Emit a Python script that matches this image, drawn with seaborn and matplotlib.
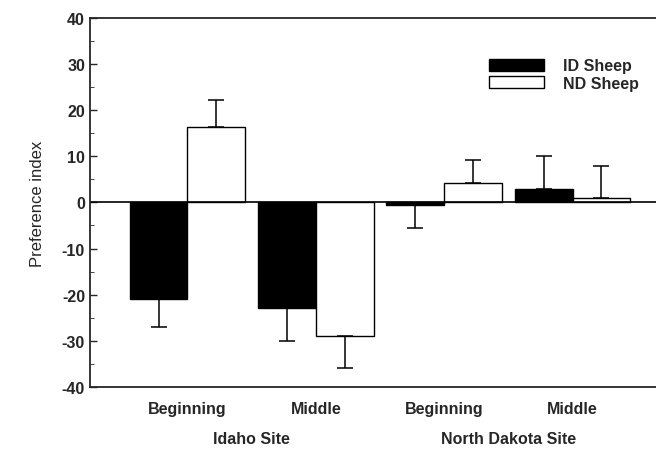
import numpy as np
import pandas as pd
import matplotlib
matplotlib.use("Agg")
import matplotlib.pyplot as plt
import seaborn as sns

periods = ["Beginning", "Middle", "Beginning ", "Middle "]
sites = ["Idaho Site", "North Dakota Site"]
id_sheep = [-21, -23, -0.6, 3]
nd_sheep = [16.3, -29, 4.1, 0.9]
id_err = [6, 7, 5, 7]
nd_err = [6, 7, 5, 7]

df = pd.DataFrame({
    "period": periods * 2,
    "value": id_sheep + nd_sheep,
    "err": id_err + nd_err,
    "sheep": ["ID Sheep"] * 4 + ["ND Sheep"] * 4,
})

sns.set_style("ticks")
plt.rcParams["font.family"] = ["Liberation Sans", "DejaVu Sans"]
plt.rcParams["axes.unicode_minus"] = False

fig = plt.figure(figsize=(6.56, 4.52), dpi=100)
ax = fig.add_axes([0.137, 0.142, 0.863, 0.816])

sns.barplot(data=df, x="period", y="value", hue="sheep", order=periods,
            palette={"ID Sheep": "black", "ND Sheep": "white"},
            edgecolor="black", linewidth=1, width=0.9, errorbar=None,
            saturation=1, ax=ax)

# one-sided error bars, drawn away from zero
for patch, (_, row) in zip(ax.patches, df.iterrows()):
    xc = patch.get_x() + patch.get_width() / 2
    v = row["value"]
    yerr = [[row["err"]], [0]] if v < 0 else [[0], [row["err"]]]
    ax.errorbar(xc, v, yerr=yerr, fmt="none", ecolor="black",
                elinewidth=1.1, capsize=5.5, capthick=1.1)

ax.axhline(0, color="black", linewidth=1.2)
ax.set_ylim(-40, 40)
ax.set_xlim(-0.76, 3.65)
ax.set_yticks(np.arange(-40, 41, 10))
ax.set_yticks(np.arange(-40, 41, 5), minor=True)
ax.tick_params(axis="y", direction="in", length=5, labelsize=11.5, width=1)
ax.tick_params(axis="y", which="minor", direction="in", length=3)
ax.tick_params(axis="x", length=0, labelsize=11.5, pad=10)
for lab in ax.get_yticklabels() + ax.get_xticklabels():
    lab.set_fontweight("bold")
ax.set_xticklabels(["Beginning", "Middle", "Beginning", "Middle"])
ax.set_xlabel("")
ax.set_ylabel("Preference index", fontsize=12, labelpad=12)

for s in ["top", "left", "bottom"]:
    ax.spines[s].set_linewidth(1.3)
ax.spines["right"].set_visible(False)

for i, site in enumerate(sites):
    ax.text(0.5 + 2 * i, -0.12, site, transform=ax.get_xaxis_transform(),
            ha="center", va="top", fontsize=11.5, fontweight="bold")

leg = ax.legend(loc="upper right", bbox_to_anchor=(0.995, 0.93), frameon=False,
                fontsize=11.5, handlelength=3.4, handleheight=0.8,
                labelspacing=0.15, handletextpad=1.2)
for t in leg.get_texts():
    t.set_fontweight("bold")

fig.savefig("out.png", dpi=100)
